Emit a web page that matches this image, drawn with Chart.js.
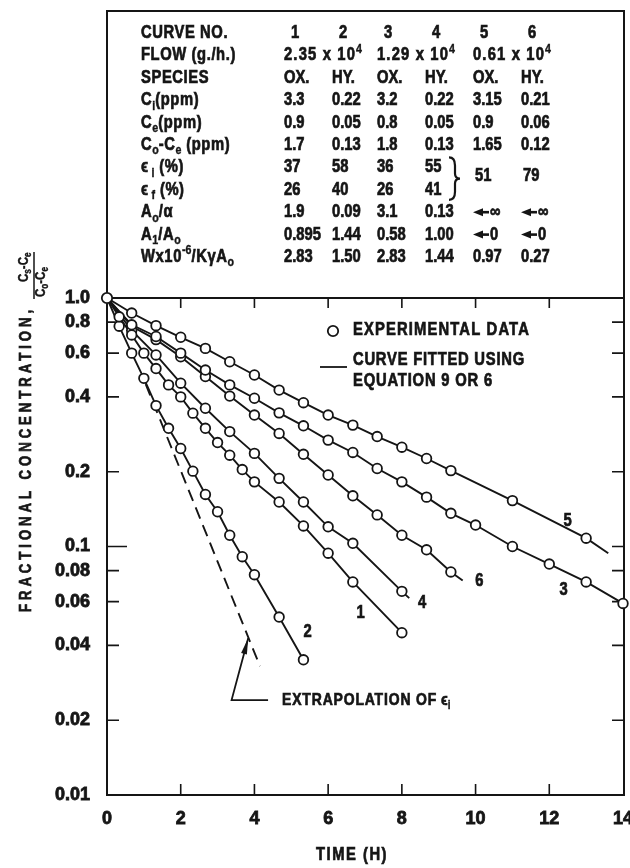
<!DOCTYPE html>
<html>
<head>
<meta charset="utf-8">
<script src="https://cdn.jsdelivr.net/npm/chart.js@4.4.1/dist/chart.umd.min.js"></script>
<style>
  html, body { margin: 0; padding: 0; background: #fff; }
  #wrap { position: relative; width: 630px; height: 868px; }
</style>
</head>
<body>
<div id="wrap"><canvas id="chart"></canvas></div>
<script>
const FONT = '"Liberation Sans", Arial, sans-serif';
const INK = '#151515';
const SQ = 0.82;   // horizontal squeeze for the condensed lettering

// sampling times (h) and fractional concentration for each curve
const curveIds = ['1', '2', '3', '4', '5', '6'];
const time1 = [0.33, 0.67, 1.0, 1.33, 1.67, 2.0, 2.33, 2.67, 3.0, 3.33, 3.67, 4.0, 4.67, 5.33, 6.0, 6.67, 8.0];
const frac1 = [0.84, 0.71, 0.60, 0.52, 0.447, 0.40, 0.344, 0.299, 0.262, 0.233, 0.204, 0.182, 0.151, 0.121, 0.094, 0.072, 0.045];
const time2 = [0.33, 0.67, 1.0, 1.33, 1.67, 2.0, 2.33, 2.67, 3.0, 3.33, 3.67, 4.0, 4.67, 5.33];
const frac2 = [0.77, 0.60, 0.475, 0.369, 0.299, 0.248, 0.201, 0.162, 0.138, 0.111, 0.091, 0.077, 0.052, 0.035];
const time3 = [0.67, 1.33, 2.0, 2.67, 3.33, 4.0, 4.67, 5.33, 6.0, 6.67, 7.33, 8.0, 8.67, 9.33, 10.0, 11.0, 12.0, 13.0, 14.0];
const frac3 = [0.78, 0.70, 0.60, 0.513, 0.447, 0.395, 0.345, 0.306, 0.268, 0.239, 0.206, 0.182, 0.158, 0.136, 0.122, 0.100, 0.085, 0.072, 0.059];
const time4 = [0.67, 1.33, 2.0, 2.67, 3.33, 4.0, 4.67, 5.33, 6.0, 6.67, 8.0];
const frac4 = [0.74, 0.59, 0.454, 0.360, 0.290, 0.237, 0.188, 0.151, 0.120, 0.103, 0.066];
const time5 = [0.67, 1.33, 2.0, 2.67, 3.33, 4.0, 4.67, 5.33, 6.0, 6.67, 7.33, 8.0, 8.67, 9.33, 11.0, 13.0];
const frac5 = [0.87, 0.774, 0.695, 0.627, 0.554, 0.490, 0.426, 0.379, 0.338, 0.308, 0.277, 0.251, 0.226, 0.202, 0.153, 0.108];
const time6 = [0.67, 1.33, 2.0, 2.67, 3.33, 4.0, 4.67, 5.33, 6.0, 6.67, 7.33, 8.0, 8.67, 9.33];
const frac6 = [0.77, 0.68, 0.58, 0.483, 0.403, 0.338, 0.285, 0.235, 0.194, 0.160, 0.134, 0.111, 0.097, 0.079];

// where each fitted curve stops
const fitEndTime = [8.0, 5.33, 14.0, 8.2, 13.6, 9.65];
const fitEndFrac = [0.045, 0.035, 0.059, 0.062, 0.094, 0.073];
// curve number labels
const labelTime = [6.88, 5.44, 12.39, 8.55, 12.5, 10.1];
const labelFrac = [0.054, 0.0453, 0.0668, 0.0593, 0.127, 0.0727];
// dashed extrapolation of the initial efficiency
const extrapTime = [1.05, 4.15];
const extrapFrac = [0.45, 0.033];

const xTickValues = [0, 2, 4, 6, 8, 10, 12, 14];
const yTickValues = [1, 0.8, 0.6, 0.4, 0.2, 0.1, 0.08, 0.06, 0.04, 0.02, 0.01];
const yTickLabels = ['1.0', '0.8', '0.6', '0.4', '0.2', '0.1', '0.08', '0.06', '0.04', '0.02', '0.01'];

// run conditions table
const flowRow = ['2.35 x 10', '1.29 x 10', '0.61 x 10'];
const flowExp = '4';
const speciesRow = ['OX.', 'HY.', 'OX.', 'HY.', 'OX.', 'HY.'];
const ciRow = ['3.3', '0.22', '3.2', '0.22', '3.15', '0.21'];
const ceRow = ['0.9', '0.05', '0.8', '0.05', '0.9', '0.06'];
const coCeRow = ['1.7', '0.13', '1.8', '0.13', '1.65', '0.12'];
const epsInitRow = ['37', '58', '36', '55'];
const epsFinalRow = ['26', '40', '26', '41'];
const epsLowFlow = ['51', '79'];
const aoAlphaRow = ['1.9', '0.09', '3.1', '0.13', '\u221E', '\u221E'];
const a1AoRow = ['0.895', '1.44', '0.58', '1.00', '0', '0'];
const wRow = ['2.83', '1.50', '2.83', '1.44', '0.97', '0.27'];
const rowLabels = [
  [['CURVE NO.']],
  [['FLOW (g./h.)']],
  [['SPECIES']],
  [['C'], ['i', 'sub'], ['(ppm)']],
  [['C'], ['e', 'sub'], ['(ppm)']],
  [['C'], ['o', 'sub'], ['-C'], ['e', 'sub'], [' (ppm)']],
  [['\u03F5'], [' i', 'sub'], [' (%)']],
  [['\u03F5'], [' f', 'sub'], [' (%)']],
  [['A'], ['o', 'sub'], ['/\u03B1']],
  [['A'], ['1', 'sub'], ['/A'], ['o', 'sub']],
  [['Wx10'], ['-6', 'sup'], ['/K\u03B3A'], ['o', 'sub']]
];

const FRAME_TOP = 11;
const TABLE_X = 141;
const colX = [284, 332, 377, 425, 473, 521];
const rowY = i => 33 + i * 22.4;

function textWidth(ctx, txt, size, spacing) {
  ctx.save();
  ctx.font = `bold ${size}px ${FONT}`;
  ctx.letterSpacing = (spacing / SQ) + 'px';
  const w = ctx.measureText(txt).width * SQ;
  ctx.restore();
  return w;
}

// condensed heavy text, left aligned, returns the right end
function narrowText(ctx, txt, x, y, size, spacing = 0) {
  const w = textWidth(ctx, txt, size, spacing);
  ctx.save();
  ctx.font = `bold ${size}px ${FONT}`;
  ctx.letterSpacing = (spacing / SQ) + 'px';
  ctx.textAlign = 'left';
  ctx.textBaseline = 'middle';
  ctx.strokeStyle = ctx.fillStyle;
  ctx.lineWidth = size > 14 ? 0.7 : 0.4;
  ctx.translate(x, y);
  ctx.scale(SQ, 1);
  ctx.strokeText(txt, 0, 0);
  ctx.fillText(txt, 0, 0);
  ctx.restore();
  return x + w;
}

// spread letters so the text spans a given width
function fitText(ctx, txt, x, y, size, width) {
  const w0 = textWidth(ctx, txt, size, 0);
  return narrowText(ctx, txt, x, y, size, Math.max(0, (width - w0) / txt.length));
}

function richText(ctx, parts, x, y, size, spacing) {
  let cx = x;
  for (const [txt, kind] of parts) {
    const s = kind ? Math.round(size * 0.7) : size;
    const dy = kind === 'sub' ? size * 0.32 : kind === 'sup' ? -size * 0.36 : 0;
    cx = narrowText(ctx, txt, cx, y + dy, s, kind ? 0 : spacing);
  }
  return cx;
}

function leftArrow(ctx, x, y) {
  ctx.beginPath();
  ctx.moveTo(x, y);
  ctx.lineTo(x + 10, y - 4);
  ctx.lineTo(x + 10, y + 4);
  ctx.closePath();
  ctx.fill();
  ctx.fillRect(x + 8, y - 1.3, 8, 2.6);
}

function drawTable(ctx) {
  ctx.fillStyle = INK;
  rowLabels.forEach((parts, i) => richText(ctx, parts, TABLE_X, rowY(i), 18, 0.6));
  curveIds.forEach((id, j) => narrowText(ctx, id, colX[j] + 7, rowY(0), 18));
  flowRow.forEach((f, k) => {
    const end = fitText(ctx, f, colX[2 * k], rowY(1), 18, 72);
    narrowText(ctx, flowExp, end, rowY(1) - 6, 13);
  });
  [speciesRow, ciRow, ceRow, coCeRow].forEach((row, r) =>
    row.forEach((v, j) => narrowText(ctx, v, colX[j], rowY(r + 2), 18)));
  epsInitRow.forEach((v, j) => narrowText(ctx, v, colX[j], rowY(6), 18));
  epsFinalRow.forEach((v, j) => narrowText(ctx, v, colX[j], rowY(7), 18));
  epsLowFlow.forEach((v, k) => narrowText(ctx, v, colX[4 + k] + 2, (rowY(6) + rowY(7)) / 2 - 3, 18));
  // brace grouping the two efficiency rows
  const bx = 449, top = rowY(6) - 10, bot = rowY(7) + 10, mid = (top + bot) / 2;
  ctx.save();
  ctx.strokeStyle = INK;
  ctx.lineWidth = 2.2;
  ctx.beginPath();
  ctx.moveTo(bx, top);
  ctx.quadraticCurveTo(bx + 6, top, bx + 6, top + 8);
  ctx.lineTo(bx + 6, mid - 5);
  ctx.quadraticCurveTo(bx + 6, mid, bx + 11, mid);
  ctx.quadraticCurveTo(bx + 6, mid, bx + 6, mid + 5);
  ctx.lineTo(bx + 6, bot - 8);
  ctx.quadraticCurveTo(bx + 6, bot, bx, bot);
  ctx.stroke();
  ctx.restore();
  [[aoAlphaRow, 8], [a1AoRow, 9]].forEach(([row, r]) => row.forEach((v, j) => {
    let x0 = colX[j];
    if (j >= 4) { leftArrow(ctx, x0, rowY(r)); x0 += 17; }
    narrowText(ctx, v, x0, rowY(r), 18);
  }));
  wRow.forEach((v, j) => narrowText(ctx, v, colX[j], rowY(10), 18));
}

function drawAxisTitles(ctx) {
  ctx.fillStyle = INK;
  fitText(ctx, 'TIME (H)', 316, 855, 18, 72);

  ctx.save();
  ctx.translate(27, 612);
  ctx.rotate(-Math.PI / 2);
  fitText(ctx, 'FRACTIONAL CONCENTRATION,', 0, 0, 16, 306);
  richText(ctx, [['C'], ['s', 'sub'], ['-C'], ['e', 'sub']], 330, -3, 14, 0);
  ctx.strokeStyle = INK;
  ctx.lineWidth = 1.5;
  ctx.beginPath();
  ctx.moveTo(313, 7);
  ctx.lineTo(360, 7);
  ctx.stroke();
  richText(ctx, [['C'], ['o', 'sub'], ['-C'], ['e', 'sub']], 315, 14, 14, 0);
  ctx.restore();
}

function drawLegend(ctx) {
  ctx.strokeStyle = INK;
  ctx.lineWidth = 1.8;
  ctx.beginPath();
  ctx.arc(333, 331, 5.2, 0, Math.PI * 2);
  ctx.fillStyle = '#fff';
  ctx.fill();
  ctx.stroke();
  ctx.beginPath();
  ctx.moveTo(320, 367);
  ctx.lineTo(347, 367);
  ctx.stroke();
  ctx.fillStyle = INK;
  fitText(ctx, 'EXPERIMENTAL DATA', 353, 330, 18, 177);
  fitText(ctx, 'CURVE FITTED USING', 353, 360, 18, 172);
  fitText(ctx, 'EQUATION 9 OR 6', 353, 381, 18, 140);
}

const decor = {
  id: 'decor',
  beforeDatasetsDraw(chart) {
    const { ctx, chartArea: a, scales: { x, y } } = chart;
    const seg = (x1, y1, x2, y2) => { ctx.moveTo(x1, y1); ctx.lineTo(x2, y2); };
    ctx.save();
    ctx.strokeStyle = INK;
    ctx.lineWidth = 2;
    ctx.beginPath();
    ctx.moveTo(a.left, a.bottom);
    ctx.lineTo(a.left, FRAME_TOP);
    ctx.lineTo(a.right + 1, FRAME_TOP);
    ctx.lineTo(a.right + 1, a.bottom);
    ctx.closePath();
    seg(a.left, a.top, a.right + 1, a.top);
    ctx.stroke();
    // tick marks point inward on all four sides
    ctx.lineWidth = 1.6;
    ctx.beginPath();
    xTickValues.slice(1, -1).forEach(v => {
      const px = x.getPixelForValue(v);
      seg(px, a.top, px, a.top + 10);
      seg(px, a.bottom, px, a.bottom - 11);
    });
    yTickValues.slice(1, -1).forEach(v => {
      const py = y.getPixelForValue(v);
      seg(a.left, py, a.left + (v === 0.1 ? 20 : 12), py);
      seg(a.right + 1, py, a.right - 11, py);
    });
    ctx.stroke();
    ctx.restore();
  },
  afterDraw(chart) {
    const { ctx, scales: { x, y } } = chart;
    ctx.save();
    drawTable(ctx);
    drawAxisTitles(ctx);
    drawLegend(ctx);

    ctx.fillStyle = INK;
    curveIds.forEach((id, i) => {
      const w = textWidth(ctx, id, 18, 0);
      narrowText(ctx, id, x.getPixelForValue(labelTime[i]) - w / 2, y.getPixelForValue(labelFrac[i]), 18);
    });

    // pointer to the extrapolated line
    const tipX = x.getPixelForValue(3.83), tipY = y.getPixelForValue(0.0427);
    const baseX = x.getPixelForValue(3.38), baseY = y.getPixelForValue(0.0241);
    const endX = x.getPixelForValue(4.37);
    ctx.strokeStyle = INK;
    ctx.lineWidth = 1.8;
    ctx.beginPath();
    ctx.moveTo(endX, baseY);
    ctx.lineTo(baseX, baseY);
    ctx.lineTo(tipX, tipY);
    ctx.stroke();
    const ang = Math.atan2(tipY - baseY, tipX - baseX);
    ctx.beginPath();
    ctx.moveTo(tipX, tipY);
    ctx.lineTo(tipX - 16 * Math.cos(ang) + 3 * Math.sin(ang), tipY - 16 * Math.sin(ang) - 3 * Math.cos(ang));
    ctx.lineTo(tipX - 16 * Math.cos(ang) - 3 * Math.sin(ang), tipY - 16 * Math.sin(ang) + 3 * Math.cos(ang));
    ctx.closePath();
    ctx.fill();
    const tx = x.getPixelForValue(4.75);
    const end = fitText(ctx, 'EXTRAPOLATION OF', tx, baseY, 17, 155);
    richText(ctx, [['\u03F5'], ['i', 'sub']], end + 4, baseY, 17, 0);
    ctx.restore();
  }
};

const curveTimes = [time1, time2, time3, time4, time5, time6];
const curveFracs = [frac1, frac2, frac3, frac4, frac5, frac6];
const datasets = [];
curveTimes.forEach((ts, i) => {
  const pts = ts.map((t, j) => ({ x: t, y: curveFracs[i][j] }));
  datasets.push({
    label: 'fit ' + curveIds[i],
    data: [{ x: 0, y: 1 }, ...pts, { x: fitEndTime[i], y: fitEndFrac[i] }],
    borderColor: INK, borderWidth: 1.9, pointRadius: 0, tension: 0, order: 3
  });
  datasets.push({
    label: 'curve ' + curveIds[i],
    data: pts, showLine: false, clip: false,
    pointRadius: 4.8, pointBorderWidth: 1.8,
    pointBackgroundColor: '#fff', pointBorderColor: INK, order: 1
  });
});
datasets.push({
  label: 'start', data: [{ x: 0, y: 1 }], showLine: false, clip: false,
  pointRadius: 5.2, pointBorderWidth: 1.8, pointBackgroundColor: '#fff', pointBorderColor: INK, order: 0
});
datasets.push({
  label: 'extrapolation',
  data: extrapTime.map((t, j) => ({ x: t, y: extrapFrac[j] })),
  borderColor: INK, borderWidth: 1.9, borderDash: [12, 7], pointRadius: 0, order: 2
});

new Chart(document.getElementById('chart'), {
  type: 'line',
  data: { datasets },
  options: {
    responsive: true,
    maintainAspectRatio: false,
    devicePixelRatio: 1,
    animation: false,
    layout: { padding: { left: 27, right: 5, top: 298, bottom: 0 } },
    plugins: { legend: { display: false }, tooltip: { enabled: false } },
    scales: {
      x: {
        type: 'linear', min: 0, max: 14, position: 'bottom',
        grid: { display: false, drawTicks: false },
        border: { display: false },
        afterBuildTicks: s => { s.ticks = xTickValues.map(v => ({ value: v })); },
        afterFit: s => { s.height = 73; s.paddingLeft = 0; s.paddingRight = 0; },
        ticks: {
          color: INK, padding: 13, maxRotation: 0, autoSkip: false,
          textStrokeColor: INK, textStrokeWidth: 0.8,
          font: { family: FONT, size: 18, weight: 'bold' },
          callback: v => String(v)
        }
      },
      y: {
        type: 'logarithmic', min: 0.01, max: 1, position: 'left',
        grid: { display: false, drawTicks: false },
        border: { display: false },
        afterBuildTicks: s => { s.ticks = yTickValues.map(v => ({ value: v })); },
        afterFit: s => { s.width = 80; s.paddingTop = 0; s.paddingBottom = 0; },
        ticks: {
          color: INK, padding: 17, autoSkip: false,
          textStrokeColor: INK, textStrokeWidth: 0.8,
          font: { family: FONT, size: 18, weight: 'bold' },
          callback: v => {
            const k = yTickValues.findIndex(t => Math.abs(t - v) < 1e-9);
            return k >= 0 ? yTickLabels[k] : '';
          }
        }
      }
    }
  },
  plugins: [decor]
});
</script>
</body>
</html>
